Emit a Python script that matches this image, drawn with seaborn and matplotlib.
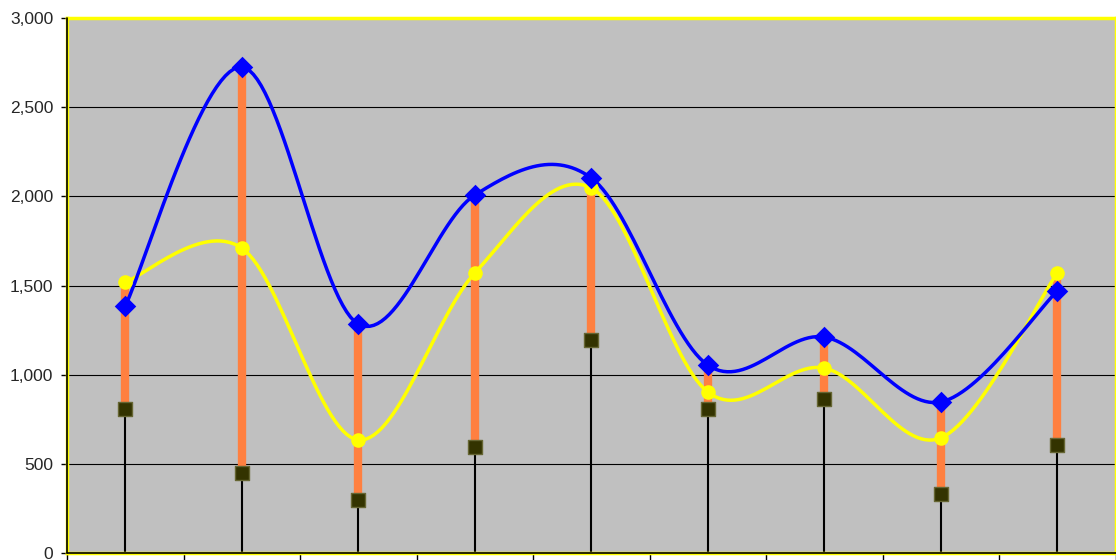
import numpy as np
import pandas as pd
import matplotlib
matplotlib.use("Agg")
import matplotlib.pyplot as plt
import seaborn as sns
from matplotlib.ticker import FuncFormatter, MultipleLocator

categories = [1, 2, 3, 4, 5, 6, 7, 8, 9]
blue_vals = [1385, 2725, 1284, 2007, 2103, 1054, 1211, 847, 1469]
yellow_vals = [1520, 1710, 634, 1570, 2047, 903, 1037, 645, 1570]
low_vals = [807, 449, 297, 594, 1194, 807, 864, 331, 606]


def smooth(xs, ys, n=30):
    # Bezier smoothing similar to spreadsheet "smoothed line"
    xs = np.asarray(xs, float)
    ys = np.asarray(ys, float)
    P = np.column_stack([xs, ys])
    out = []
    for i in range(len(P) - 1):
        p0 = P[i - 1] if i > 0 else P[i]
        p1 = P[i]
        p2 = P[i + 1]
        p3 = P[i + 2] if i + 2 < len(P) else P[i + 1]
        c1 = p1 + (p2 - p0) / 6.0
        c2 = p2 - (p3 - p1) / 6.0
        t = np.linspace(0, 1, n, endpoint=(i == len(P) - 2))[:, None]
        b = ((1 - t) ** 3) * p1 + 3 * ((1 - t) ** 2) * t * c1 + 3 * (1 - t) * t ** 2 * c2 + t ** 3 * p2
        out.append(b)
    out = np.vstack(out)
    return out[:, 0], out[:, 1]


sns.set_theme(style="white")
plt.rcParams['font.family'] = ['Liberation Sans', 'DejaVu Sans']

fig = plt.figure(figsize=(11.16, 5.6), dpi=100)
ax = fig.add_axes([67 / 1116, 1 - 553 / 560, (1115.5 - 67) / 1116, (553 - 18) / 560])
ax.set_facecolor("#C0C0C0")

df = pd.DataFrame({"cat": categories, "blue": blue_vals, "yellow": yellow_vals, "low": low_vals})
df["high"] = df[["blue", "yellow"]].max(axis=1)

# grid
ax.set_ylim(0, 3000)
ax.set_xlim(0.5, 9.5)
ax.yaxis.set_major_locator(MultipleLocator(500))
ax.grid(axis="y", color="black", linewidth=0.8, zorder=0.5)
ax.set_axisbelow(True)

# drop lines from low value to axis
ax.vlines(df["cat"], 0, df["low"], color="black", linewidth=1.5, zorder=2)
# high-low lines
ax.vlines(df["cat"], df["low"], df["high"], color="#FF8040", linewidth=6, zorder=2.5)

bx, by = smooth(df["cat"], df["blue"])
yx, yy = smooth(df["cat"], df["yellow"])
sns.lineplot(x=yx, y=yy, sort=False, color="#FFFF00", linewidth=2.5, ax=ax, zorder=3)
sns.lineplot(x=bx, y=by, sort=False, color="#0000FF", linewidth=2.5, ax=ax, zorder=3.2)

sns.scatterplot(data=df, x="cat", y="low", marker="s", s=110, color="#333300",
                edgecolor="#666633", linewidth=1, ax=ax, zorder=4)
sns.scatterplot(data=df, x="cat", y="yellow", marker="o", s=110, color="#FFFF00",
                edgecolor="#FFFF00", linewidth=0, ax=ax, zorder=4.2)
sns.scatterplot(data=df, x="cat", y="blue", marker="D", s=120, color="#0000FF",
                edgecolor="#0000FF", linewidth=0, ax=ax, zorder=4.4)

ax.set_xlabel("")
ax.set_ylabel("")
ax.set_xticks(np.arange(0.5, 10.0, 1.0))
ax.set_xticklabels([])
ax.yaxis.set_major_formatter(FuncFormatter(lambda v, p: f"{int(v):,}"))
ax.tick_params(axis="y", direction="out", length=4.5, width=1, color="black",
               labelsize=12.5, pad=5.5, left=True)
ax.tick_params(axis="x", direction="out", length=5.5, width=1, color="black", bottom=True)

for s in ["top", "right", "left", "bottom"]:
    ax.spines[s].set_color("#FFFF00")
    ax.spines[s].set_linewidth(2.5)
    ax.spines[s].set_visible(True)
ax.axhline(0, color="black", linewidth=1.2, zorder=5, clip_on=False)
ax.axvline(0.5, color="black", linewidth=1.2, zorder=5, clip_on=False)

fig.savefig("out.png", dpi=100, facecolor="white")
